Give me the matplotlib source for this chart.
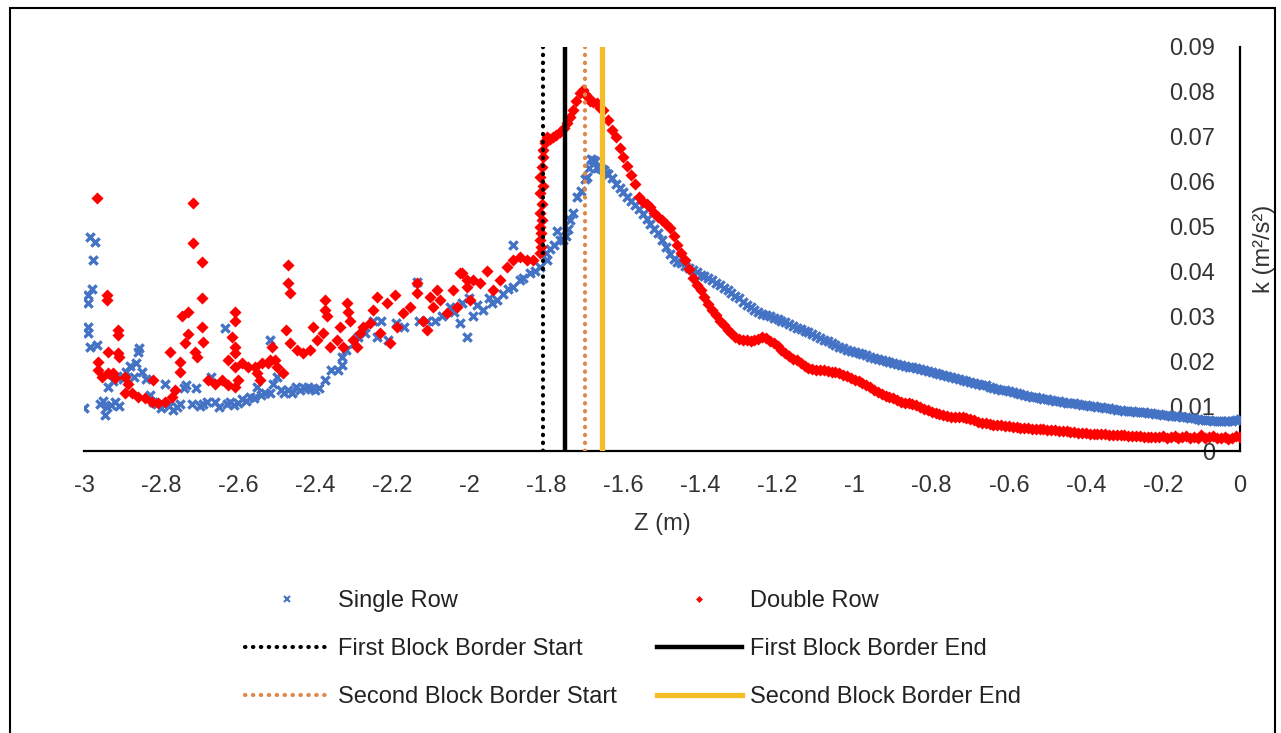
import numpy as np
import matplotlib.pyplot as plt
from matplotlib.lines import Line2D
from matplotlib.patches import Rectangle

plt.rcParams["font.family"] = ["Liberation Sans", "DejaVu Sans"]

# ------------------------------------------------------------
# data
# ------------------------------------------------------------

# Single Row, scattered part (z < -1.64)
single_z = [
    -3.00, -2.984, -2.971, -2.977, -2.979, -2.990, -2.990, -2.990, -2.990, -2.984,
    -2.966, -2.945, -2.958, -2.950, -2.940, -2.930, -2.920, -2.910, -2.938, -2.925,
    -2.915, -2.900, -2.890, -2.880, -2.870, -2.860, -2.858, -2.865, -2.850, -2.840,
    -2.830, -2.820, -2.810, -2.800, -2.790, -2.780, -2.770, -2.760, -2.750, -2.740,
    -2.735, -2.720, -2.710, -2.700, -2.690, -2.680, -2.670, -2.660, -2.650, -2.634,
    -2.630, -2.620, -2.610, -2.600, -2.590, -2.580, -2.570, -2.560, -2.550, -2.540,
    -2.530, -2.517, -2.517, -2.510, -2.500, -2.490, -2.480, -2.470, -2.460, -2.450,
    -2.440, -2.430, -2.420, -2.410, -2.400, -2.390, -2.375, -2.360, -2.340, -2.330,
    -2.330, -2.320, -2.300, -2.290, -2.270, -2.240, -2.210, -2.250, -2.230, -2.190,
    -2.170, -2.135, -2.130, -2.110, -2.090, -2.070, -2.050, -2.040, -2.024, -2.020,
    -2.006, -2.000, -1.990, -1.980, -1.964, -1.950, -1.940, -1.928, -1.913, -1.900,
    -1.887, -1.887, -1.868, -1.860, -1.842, -1.830, -1.817, -1.800, -1.798, -1.790,
    -1.780, -1.772, -1.765, -1.757, -1.750, -1.745, -1.739, -1.730, -1.720, -1.710,
    -1.700, -1.695, -1.690, -1.685, -1.679, -1.675, -1.670, -1.665, -1.660, -1.655,
    -1.650, -1.645,
]
single_k = [
    0.0095, 0.0477, 0.0465, 0.0425, 0.0360, 0.0347, 0.0330, 0.0276, 0.0263, 0.0232,
    0.0236, 0.0080, 0.0105, 0.0112, 0.0098, 0.0103, 0.0110, 0.0100, 0.0143, 0.0155,
    0.0168, 0.0160, 0.0175, 0.0190, 0.0165, 0.0220, 0.0230, 0.0195, 0.0175, 0.0160,
    0.0125, 0.0110, 0.0105, 0.0095, 0.0150, 0.0100, 0.0092, 0.0098, 0.0105, 0.0140,
    0.0147, 0.0105, 0.0140, 0.0100, 0.0105, 0.0110, 0.0165, 0.0110, 0.0098, 0.0274,
    0.0105, 0.0110, 0.0102, 0.0108, 0.0115, 0.0112, 0.0120, 0.0118, 0.0143, 0.0125,
    0.0130, 0.0247, 0.0130, 0.0150, 0.0165, 0.0136, 0.0130, 0.0135, 0.0130, 0.0143,
    0.0135, 0.0140, 0.0143, 0.0138, 0.0136, 0.0140, 0.0158, 0.0180, 0.0180, 0.0192,
    0.0210, 0.0225, 0.0240, 0.0254, 0.0263, 0.0254, 0.0247, 0.0290, 0.0290, 0.0285,
    0.0276, 0.0376, 0.0290, 0.0290, 0.0290, 0.0300, 0.0320, 0.0310, 0.0285, 0.0330,
    0.0254, 0.0340, 0.0300, 0.0325, 0.0314, 0.0340, 0.0330, 0.0336, 0.0350, 0.0360,
    0.0365, 0.0460, 0.0380, 0.0385, 0.0396, 0.0400, 0.0410, 0.0440, 0.0425, 0.0450,
    0.0460, 0.0490, 0.0470, 0.0470, 0.0480, 0.0495, 0.0514, 0.0530, 0.0566, 0.0580,
    0.0605, 0.0610, 0.0630, 0.0650, 0.0648, 0.0645, 0.0630, 0.0635, 0.0630, 0.0628,
    0.0625, 0.0620,
]

# Single Row, dense part: z = -1.64 ... 0.00, step 0.01
single_k_dense = [
    0.0618, 0.0608, 0.0595, 0.0585, 0.0578, 0.0566, 0.0558, 0.0548, 0.0540, 0.0528,
    0.0516, 0.0505, 0.0495, 0.0485, 0.0470, 0.0455, 0.0438, 0.0428, 0.0422, 0.0418,
    0.0413, 0.0408, 0.0403, 0.0398, 0.0393, 0.0389, 0.0386, 0.0380, 0.0375, 0.0370,
    0.0364, 0.0358, 0.0352, 0.0346, 0.0340, 0.0333, 0.0325, 0.0320, 0.0314, 0.0309,
    0.0305, 0.0302, 0.0300, 0.0297, 0.0293, 0.0290, 0.0287, 0.0282, 0.0278, 0.0275,
    0.0272, 0.0268, 0.0264, 0.0260, 0.0256, 0.0252, 0.0248, 0.0244, 0.0240, 0.0236,
    0.0232, 0.0229, 0.0226, 0.0223, 0.0220, 0.0218, 0.0215, 0.0213, 0.0210, 0.0208,
    0.0205, 0.0203, 0.0200, 0.0198, 0.0196, 0.0194, 0.0192, 0.0190, 0.0188, 0.0187,
    0.0185, 0.0183, 0.0181, 0.0178, 0.0176, 0.0174, 0.0172, 0.0169, 0.0167, 0.0165,
    0.0163, 0.0160, 0.0158, 0.0156, 0.0154, 0.0152, 0.0150, 0.0148, 0.0146, 0.0143,
    0.0141, 0.0139, 0.0137, 0.0135, 0.0133, 0.0131, 0.0129, 0.0127, 0.0125, 0.0123,
    0.0121, 0.0120, 0.0118, 0.0116, 0.0115, 0.0113, 0.0112, 0.0111, 0.0109, 0.0108,
    0.0107, 0.0106, 0.0104, 0.0103, 0.0102, 0.0101, 0.0100, 0.0098, 0.0097, 0.0096,
    0.0095, 0.0093, 0.0092, 0.0091, 0.0090, 0.0089, 0.0089, 0.0088, 0.0087, 0.0086,
    0.0085, 0.0084, 0.0083, 0.0082, 0.0081, 0.0080, 0.0079, 0.0078, 0.0077, 0.0076,
    0.0075, 0.0074, 0.0073, 0.0072, 0.0070, 0.0069, 0.0068, 0.0067, 0.0066, 0.0066,
    0.0066, 0.0066, 0.0067, 0.0069, 0.0072,
]

# Double Row, scattered part (z < -1.64)
double_z = [
    -2.966, -2.940, -2.940, -2.913, -2.913, -2.938, -2.963, -2.963, -2.953, -2.938,
    -2.924, -2.919, -2.913, -2.908, -2.893, -2.886, -2.893, -2.875, -2.860, -2.842,
    -2.823, -2.808, -2.790, -2.772, -2.764, -2.821, -2.777, -2.751, -2.751, -2.746,
    -2.730, -2.738, -2.730, -2.712, -2.707, -2.717, -2.717, -2.694, -2.694, -2.694,
    -2.691, -2.678, -2.660, -2.642, -2.627, -2.609, -2.609, -2.609, -2.616, -2.609,
    -2.609, -2.601, -2.627, -2.609, -2.591, -2.575, -2.557, -2.539, -2.523, -2.505,
    -2.552, -2.544, -2.512, -2.517, -2.499, -2.484, -2.471, -2.471, -2.466, -2.476,
    -2.465, -2.447, -2.432, -2.413, -2.406, -2.395, -2.380, -2.375, -2.375, -2.369,
    -2.362, -2.343, -2.336, -2.328, -2.317, -2.315, -2.310, -2.302, -2.291, -2.284,
    -2.276, -2.258, -2.250, -2.240, -2.232, -2.214, -2.206, -2.193, -2.188, -2.172,
    -2.154, -2.136, -2.136, -2.120, -2.110, -2.102, -2.094, -2.084, -2.076, -2.058,
    -2.042, -2.032, -2.019, -2.006, -1.998, -2.024, -2.006, -1.990, -1.972, -1.954,
    -1.938, -1.920, -1.902, -1.887, -1.868, -1.850, -1.835, -1.817, -1.817, -1.817,
    -1.817, -1.817, -1.817, -1.815, -1.815, -1.812, -1.812, -1.810, -1.811, -1.809,
    -1.808, -1.804, -1.803, -1.798, -1.790, -1.783, -1.775, -1.765, -1.755, -1.746,
    -1.740, -1.731, -1.722, -1.713, -1.705, -1.700, -1.695, -1.687, -1.680, -1.669,
    -1.660, -1.653,
]
double_k = [
    0.0563, 0.0347, 0.0336, 0.0270, 0.0258, 0.0220, 0.0198, 0.0180, 0.0165, 0.0174,
    0.0174, 0.0163, 0.0218, 0.0210, 0.0165, 0.0150, 0.0130, 0.0129, 0.0120, 0.0118,
    0.0110, 0.0107, 0.0110, 0.0120, 0.0136, 0.0158, 0.0220, 0.0198, 0.0176, 0.0300,
    0.0310, 0.0240, 0.0260, 0.0220, 0.0210, 0.0552, 0.0463, 0.0420, 0.0340, 0.0276,
    0.0243, 0.0158, 0.0150, 0.0158, 0.0147, 0.0143, 0.0310, 0.0290, 0.0254, 0.0232,
    0.0218, 0.0158, 0.0203, 0.0187, 0.0196, 0.0187, 0.0187, 0.0196, 0.0196, 0.0203,
    0.0174, 0.0158, 0.0232, 0.0203, 0.0187, 0.0174, 0.0414, 0.0374, 0.0352, 0.0270,
    0.0240, 0.0225, 0.0218, 0.0225, 0.0276, 0.0247, 0.0263, 0.0336, 0.0314, 0.0300,
    0.0232, 0.0247, 0.0276, 0.0232, 0.0330, 0.0310, 0.0290, 0.0247, 0.0232, 0.0263,
    0.0276, 0.0285, 0.0314, 0.0343, 0.0263, 0.0330, 0.0240, 0.0347, 0.0276, 0.0307,
    0.0320, 0.0374, 0.0352, 0.0290, 0.0270, 0.0343, 0.0320, 0.0359, 0.0336, 0.0307,
    0.0359, 0.0320, 0.0396, 0.0380, 0.0336, 0.0396, 0.0365, 0.0380, 0.0374, 0.0400,
    0.0359, 0.0380, 0.0410, 0.0425, 0.0432, 0.0425, 0.0425, 0.0440, 0.0470, 0.0500,
    0.0530, 0.0575, 0.0610, 0.0455, 0.0485, 0.0515, 0.0550, 0.0590, 0.0633, 0.0655,
    0.0670, 0.0686, 0.0690, 0.0700, 0.0695, 0.0700, 0.0705, 0.0710, 0.0720, 0.0730,
    0.0745, 0.0760, 0.0780, 0.0797, 0.0804, 0.0795, 0.0790, 0.0780, 0.0778, 0.0775,
    0.0765, 0.0760,
]

# Double Row, dense part: z = -1.64 ... 0.00, step 0.01
double_k_dense = [
    0.0738, 0.0715, 0.0700, 0.0675, 0.0655, 0.0635, 0.0615, 0.0595, 0.0565, 0.0555,
    0.0550, 0.0543, 0.0530, 0.0522, 0.0515, 0.0505, 0.0497, 0.0480, 0.0460, 0.0440,
    0.0425, 0.0405, 0.0385, 0.0370, 0.0358, 0.0343, 0.0328, 0.0315, 0.0302, 0.0290,
    0.0280, 0.0270, 0.0262, 0.0255, 0.0250, 0.0247, 0.0248, 0.0246, 0.0247, 0.0250,
    0.0254, 0.0252, 0.0246, 0.0240, 0.0233, 0.0226, 0.0219, 0.0212, 0.0206, 0.0202,
    0.0196, 0.0190, 0.0186, 0.0183, 0.0181, 0.0180, 0.0180, 0.0178, 0.0177, 0.0176,
    0.0174, 0.0170, 0.0166, 0.0162, 0.0159, 0.0156, 0.0152, 0.0148, 0.0143, 0.0137,
    0.0132, 0.0127, 0.0123, 0.0120, 0.0117, 0.0113, 0.0110, 0.0108, 0.0106, 0.0104,
    0.0102, 0.0098, 0.0094, 0.0091, 0.0088, 0.0085, 0.0083, 0.0080, 0.0078, 0.0076,
    0.0075, 0.0076, 0.0075, 0.0074, 0.0072, 0.0068, 0.0065, 0.0063, 0.0062, 0.0060,
    0.0059, 0.0058, 0.0057, 0.0056, 0.0055, 0.0054, 0.0053, 0.0052, 0.0051, 0.0051,
    0.0050, 0.0049, 0.0049, 0.0048, 0.0047, 0.0047, 0.0046, 0.0045, 0.0044, 0.0044,
    0.0043, 0.0042, 0.0041, 0.0040, 0.0040, 0.0039, 0.0038, 0.0038, 0.0037, 0.0037,
    0.0036, 0.0036, 0.0036, 0.0035, 0.0035, 0.0034, 0.0034, 0.0033, 0.0033, 0.0032,
    0.0032, 0.0031, 0.0032, 0.0031, 0.0033, 0.0030, 0.0032, 0.0034, 0.0030, 0.0031,
    0.0034, 0.0029, 0.0032, 0.0030, 0.0035, 0.0029, 0.0031, 0.0033, 0.0028, 0.0030,
    0.0032, 0.0027, 0.0030, 0.0033, 0.0031,
]

# block border positions (m)
first_start = -1.81
first_end = -1.752
second_start = -1.70
second_end = -1.655

x_ticks = [-3, -2.8, -2.6, -2.4, -2.2, -2, -1.8, -1.6, -1.4, -1.2, -1, -0.8, -0.6, -0.4, -0.2, 0]
y_ticks = [0, 0.01, 0.02, 0.03, 0.04, 0.05, 0.06, 0.07, 0.08, 0.09]

BLUE = "#4472C4"
RED = "#FF0000"
ORANGE = "#E0884A"
GOLD = "#F5BE28"
DOTS = (0, (0.1, 1.8))
FS = 17

# dense grid positions (same sampling as the picture)
z_dense_s = np.round(np.linspace(-1.64, 0.0, len(single_k_dense)), 2)
z_dense_d = np.round(np.linspace(-1.64, 0.0, len(double_k_dense)), 2)

fig = plt.figure(figsize=(12.81, 7.33), dpi=100)
ax = fig.add_axes([0.0656, 0.3847, 0.9024, 0.5512])

ax.scatter(single_z + list(z_dense_s), single_k + single_k_dense,
           marker="x", s=36, linewidths=2.4, color=BLUE, zorder=3)
ax.scatter(double_z + list(z_dense_d), double_k + double_k_dense,
           marker="D", s=38, linewidths=0, color=RED, zorder=4)

ax.axvline(first_start, color="black", lw=3.0, ls=DOTS,
           dash_capstyle="round", zorder=5)
ax.axvline(first_end, color="black", lw=3.2, zorder=5)
ax.axvline(second_start, color=ORANGE, lw=3.0, ls=DOTS,
           dash_capstyle="round", zorder=5)
ax.axvline(second_end, color=GOLD, lw=3.8, zorder=5)

ax.set_xlim(-3, 0)
ax.set_ylim(0, 0.09)

# y axis sits at z = 0 (right edge), labels inside the plot
ax.spines["top"].set_visible(False)
ax.spines["right"].set_visible(False)
ax.spines["left"].set_position(("data", 0))
ax.spines["left"].set_linewidth(1.6)
ax.spines["bottom"].set_linewidth(1.6)

ax.set_xticks(x_ticks)
ax.set_xticklabels([f"{v:g}" for v in x_ticks])
ax.set_yticks(y_ticks)
ax.set_yticklabels([f"{v:g}" for v in y_ticks])
ax.tick_params(axis="x", length=0, pad=17, labelsize=FS, labelcolor="#333333")
ax.tick_params(axis="y", length=0, pad=18, labelsize=FS, labelcolor="#333333")

ax.set_xlabel("Z (m)", fontsize=FS, color="#333333", labelpad=12)
ax.set_ylabel("k (m²/s²)", fontsize=FS, color="#333333")
ax.yaxis.set_label_coords(1.03, 0.5)

# legend
handles = [
    Line2D([], [], ls="none", marker="x", color=BLUE, markersize=4, mew=1.5),
    Line2D([], [], color="black", lw=3.0, ls=DOTS, dash_capstyle="round"),
    Line2D([], [], color=ORANGE, lw=3.0, ls=DOTS, dash_capstyle="round"),
    Line2D([], [], ls="none", marker="D", color=RED, markersize=3.5, mew=0),
    Line2D([], [], color="black", lw=3.2),
    Line2D([], [], color=GOLD, lw=3.8),
]
labels = [
    "Single Row",
    "First Block Border Start",
    "Second Block Border Start",
    "Double Row",
    "First Block Border End",
    "Second Block Border End",
]
fig.legend(handles, labels, loc="center", bbox_to_anchor=(0.494, 0.1146),
           ncol=2, frameon=False, fontsize=FS, handlelength=3.6,
           handletextpad=0.35, columnspacing=1.7, labelspacing=1.1,
           labelcolor="#222222")

# outer frame
fig.patches.append(Rectangle((10 / 1281, -0.01), 1265 / 1281, 1.01 - 8 / 733,
                             transform=fig.transFigure, fill=False,
                             edgecolor="black", lw=1.5))

fig.savefig("out.png", dpi=100)
